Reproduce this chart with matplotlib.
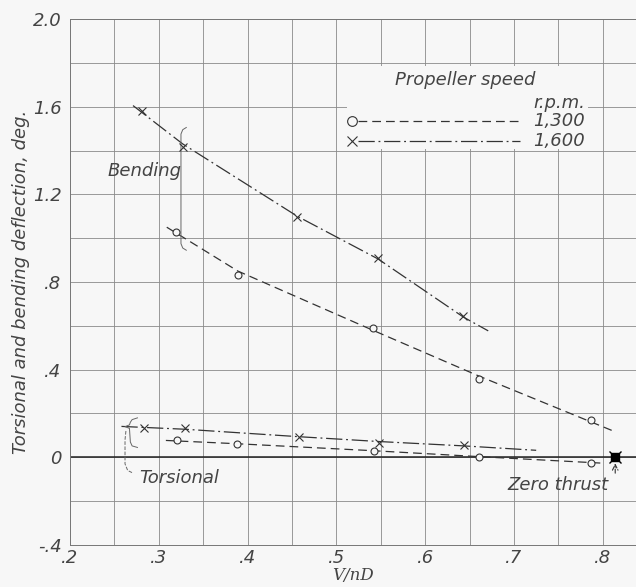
import numpy as np
import matplotlib
matplotlib.use("Agg")
import matplotlib.pyplot as plt
from matplotlib.patches import Rectangle

# Bending deflection, test points
bend_1300_x = [0.319, 0.389, 0.541, 0.661, 0.787]
bend_1300_y = [1.027, 0.832, 0.590, 0.359, 0.168]
bend_1600_x = [0.281, 0.327, 0.456, 0.547, 0.643]
bend_1600_y = [1.582, 1.414, 1.095, 0.909, 0.645]

# Torsional deflection, test points
tors_1300_x = [0.320, 0.388, 0.542, 0.661, 0.787]
tors_1300_y = [0.077, 0.059, 0.027, 0.000, -0.027]
tors_1600_x = [0.283, 0.330, 0.458, 0.548, 0.644]
tors_1600_y = [0.136, 0.132, 0.091, 0.064, 0.055]

# Faired curves
bend_1300_fx = [0.309, 0.389, 0.541, 0.661, 0.810]
bend_1300_fy = [1.050, 0.850, 0.580, 0.370, 0.123]
bend_1600_fx = [0.271, 0.327, 0.456, 0.547, 0.643, 0.671]
bend_1600_fy = [1.605, 1.430, 1.100, 0.905, 0.640, 0.577]
tors_1300_fx = [0.308, 0.388, 0.542, 0.661, 0.801]
tors_1300_fy = [0.077, 0.062, 0.030, 0.003, -0.027]
tors_1600_fx = [0.258, 0.330, 0.458, 0.548, 0.644, 0.725]
tors_1600_fy = [0.141, 0.128, 0.094, 0.072, 0.052, 0.032]

zero_thrust_x = 0.814

x_ticks = [0.2, 0.3, 0.4, 0.5, 0.6, 0.7, 0.8]
x_labels = [".2", ".3", ".4", ".5", ".6", ".7", ".8"]
y_ticks = [-0.4, 0, 0.4, 0.8, 1.2, 1.6, 2.0]
y_labels = ["-.4", "0", ".4", ".8", "1.2", "1.6", "2.0"]

ink = "#333333"
bg = "#f7f7f7"
txt = dict(style="italic", color="#444444", fontsize=13)

fig = plt.figure(figsize=(6.36, 5.87), dpi=100, facecolor=bg)
ax = fig.add_axes([0.110, 0.0716, 0.890, 0.896])
ax.set_facecolor(bg)

ax.set_xlim(0.2, 0.8374)
ax.set_ylim(-0.4, 2.0)

# grid every .05 in x and .2 in y
ax.set_xticks(np.arange(0.2, 0.84, 0.05), minor=True)
ax.set_yticks(np.arange(-0.4, 2.01, 0.2), minor=True)
ax.set_xticks(x_ticks)
ax.set_xticklabels(x_labels, **txt)
ax.set_yticks(y_ticks)
ax.set_yticklabels(y_labels, **txt)
ax.tick_params(which="both", length=0)
ax.tick_params(axis="x", pad=3)
ax.tick_params(axis="y", pad=6)
ax.grid(which="both", color="#8a8a8a", lw=0.6)
ax.set_axisbelow(True)
for s in ["left", "bottom", "top"]:
    ax.spines[s].set_color("#777777")
    ax.spines[s].set_linewidth(0.7)
ax.spines["right"].set_visible(False)

ax.axhline(0, color="#222222", lw=1.1, zorder=1.2)

# legend box masks the grid
ax.add_patch(Rectangle((0.512, 1.405), 0.271, 0.381, facecolor=bg,
                       edgecolor="none", zorder=1))

dash_1300 = (7, 4)
dash_1600 = (13, 3, 1.5, 3)

ax.plot(bend_1300_fx, bend_1300_fy, color=ink, lw=0.9, dashes=dash_1300, zorder=2)
ax.plot(bend_1600_fx, bend_1600_fy, color=ink, lw=0.9, dashes=dash_1600, zorder=2)
ax.plot(tors_1300_fx, tors_1300_fy, color=ink, lw=0.9, dashes=dash_1300, zorder=2)
ax.plot(tors_1600_fx, tors_1600_fy, color=ink, lw=0.9, dashes=dash_1600, zorder=2)

mk_o = dict(ls="none", marker="o", ms=5, mfc=bg, mec=ink, mew=0.8, zorder=3)
mk_x = dict(ls="none", marker="x", ms=6, mec=ink, mew=0.8, zorder=3)
ax.plot(bend_1300_x, bend_1300_y, **mk_o)
ax.plot(tors_1300_x, tors_1300_y, **mk_o)
ax.plot(bend_1600_x, bend_1600_y, **mk_x)
ax.plot(tors_1600_x, tors_1600_y, **mk_x)

# zero thrust point
ax.plot(zero_thrust_x, 0, marker="s", ms=6, color="k", zorder=4)
ax.plot(zero_thrust_x, 0, marker="x", ms=9, mew=1.0, color="k", zorder=4)
ax.annotate("", xy=(zero_thrust_x, -0.015), xytext=(zero_thrust_x, -0.085),
            arrowprops=dict(arrowstyle="->", ls="--", lw=0.8, color=ink))
ax.text(0.750, -0.127, "Zero thrust", ha="center", va="center", **txt)

# legend
ax.text(0.645, 1.723, "Propeller speed", ha="center", va="center", **txt)
ax.text(0.780, 1.618, "r.p.m.", ha="right", va="center", **txt)
ax.text(0.780, 1.536, "1,300", ha="right", va="center", **txt)
ax.text(0.780, 1.445, "1,600", ha="right", va="center", **txt)
ax.plot([0.5176], [1.536], **dict(mk_o, ms=7))
ax.plot([0.524, 0.707], [1.536, 1.536], color=ink, lw=0.9, dashes=dash_1300)
ax.plot([0.5176], [1.445], **dict(mk_x, ms=7))
ax.plot([0.524, 0.707], [1.445, 1.445], color=ink, lw=0.9, dashes=dash_1600)

# curve labels with braces
ax.text(0.284, 1.305, "Bending", ha="center", va="center", **txt)
ax.plot([0.331, 0.327, 0.325, 0.325, 0.327, 0.331],
        [1.505, 1.495, 1.475, 0.975, 0.955, 0.945], color="#666666", lw=0.7)
ax.text(0.323, -0.095, "Torsional", ha="center", va="center", **txt)
ax.plot([0.276, 0.270, 0.268, 0.267, 0.262, 0.267, 0.268, 0.270, 0.276],
        [0.180, 0.172, 0.160, 0.148, 0.140, 0.132, 0.070, 0.052, 0.045],
        color="#666666", lw=0.7)
ax.plot([0.263, 0.262, 0.262, 0.265, 0.270],
        [0.120, 0.080, -0.030, -0.060, -0.070],
        color="#666666", lw=0.7, ls="--")

ax.set_ylabel("Torsional and bending deflection, deg.", labelpad=2, **txt)
ax.set_xlabel("V/nD", family="DejaVu Serif", style="italic", color="#444444",
              fontsize=12, labelpad=0)

fig.savefig("out.png", dpi=100, facecolor=bg)
